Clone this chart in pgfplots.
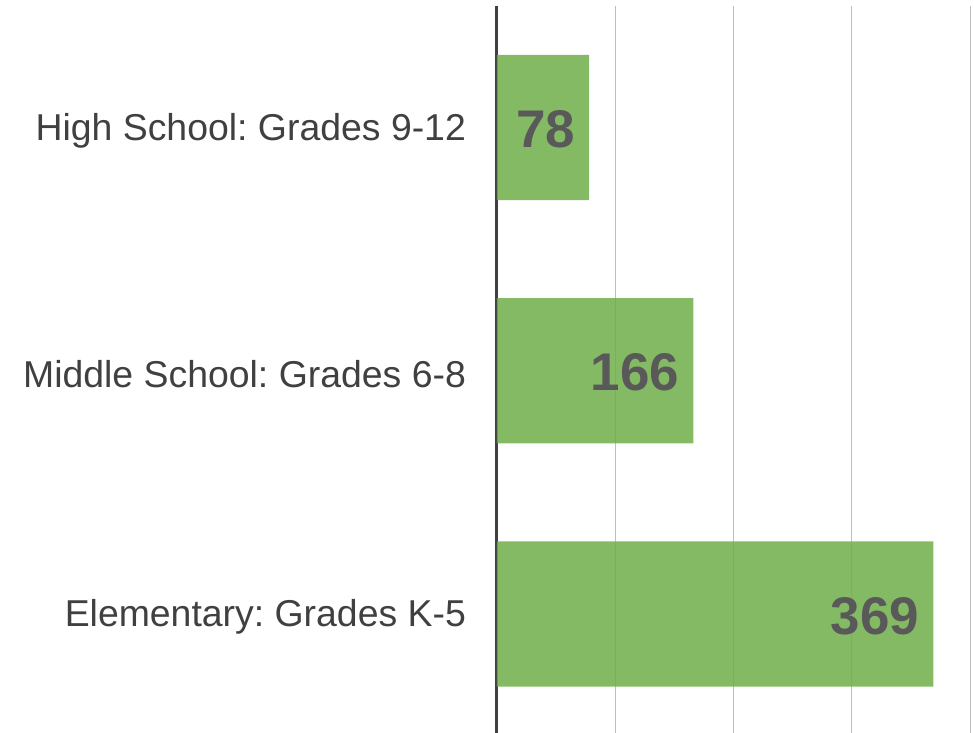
\documentclass[border=0pt]{standalone}
\usepackage{pgfplots}
\pgfplotsset{compat=1.18}
\usepackage{fontspec}
\setmainfont{Liberation Sans}
\frenchspacing
\definecolor{bargreen}{RGB}{112,174,74}
\definecolor{labelgray}{RGB}{64,64,64}
\definecolor{valgray}{RGB}{89,89,89}
\definecolor{gridgray}{RGB}{190,190,190}
\begin{document}
\begin{tikzpicture}
\useasboundingbox (0,0) rectangle (487pt,366.5pt);
\begin{axis}[
    at={(248.5pt,-1.25pt)}, anchor=south west,
    scale only axis,
    width=236.5pt, height=364.75pt,
    xbar, bar width=0.597,
    xmin=0, xmax=400,
    ymin=-0.5, ymax=2.5,
    /pgf/number format/assume math mode=true,
    ytick={0,1,2},
    yticklabels={Elementary: Grades K-5, Middle School: Grades 6-8, High School: Grades 9-12},
    yticklabel style={font=\fontsize{18.7}{20}\selectfont, text=labelgray, yshift=-1.5pt},
    xtick={100,200,300,400},
    xticklabels={},
    xmajorgrids=true,
    grid style={gridgray, line width=0.5pt},
    axis x line*=bottom,
    x axis line style={draw=none},
    axis y line*=left,
    y axis line style={-, labelgray, line width=1.5pt},
    major tick length=0pt,
    yticklabel shift=12pt,
    nodes near coords={\pgfmathprintnumber[assume math mode=true]{\pgfplotspointmeta}},
    every node near coord/.append style={anchor=east, xshift=-3.5pt, yshift=-1pt,
        font=\fontsize{26.5}{28}\selectfont\bfseries, text=valgray},
    clip=false,
]
\addplot[fill=bargreen, fill opacity=0.85, draw=none, text opacity=1] coordinates {
    (369,0) (166,1) (78,2)
};
\end{axis}
\end{tikzpicture}
\end{document}
